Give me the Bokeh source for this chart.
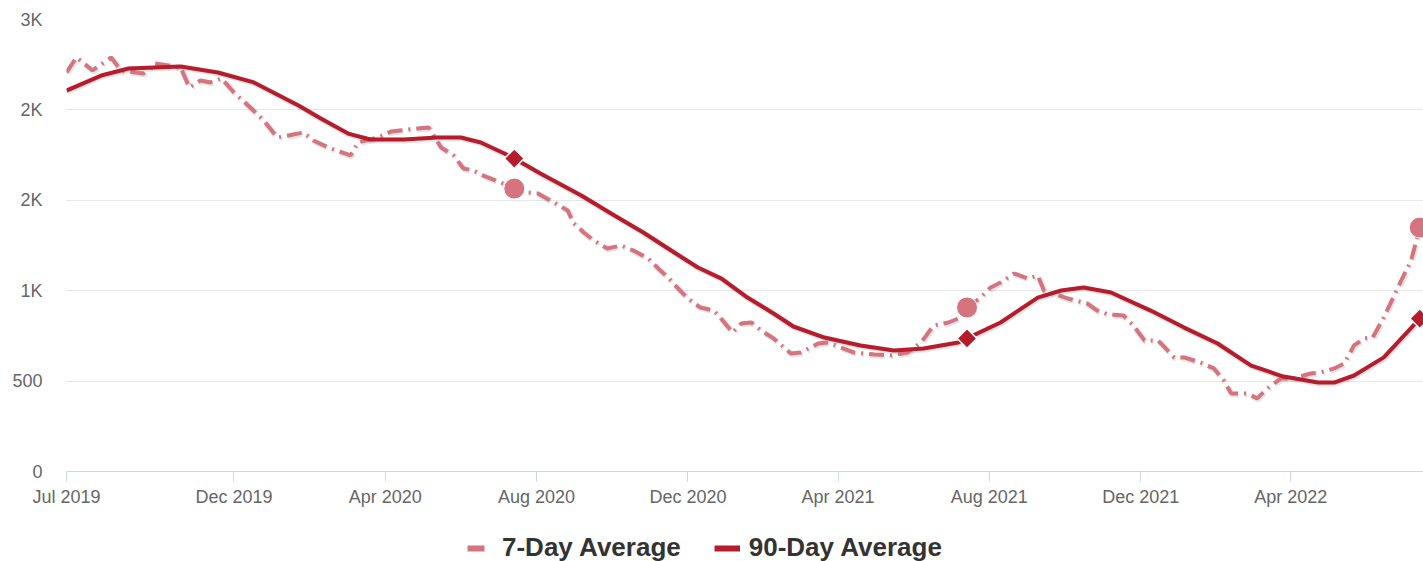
import pandas as pd
from bokeh.plotting import figure
from bokeh.layouts import column
from bokeh.models import ColumnDataSource, FixedTicker, Legend, LegendItem, Range1d
from bokeh.transform import dodge
from bokeh.embed import file_html
from bokeh.resources import INLINE

# ---------------- data ----------------
DATES_7 = [
    "2019-07-19", "2019-07-27", "2019-08-09", "2019-08-24", "2019-09-01", "2019-09-19",
    "2019-09-28", "2019-10-19", "2019-10-26", "2019-11-04", "2019-11-12", "2019-11-21",
    "2019-12-01", "2019-12-15", "2019-12-25", "2020-01-05", "2020-01-26", "2020-02-03",
    "2020-02-15", "2020-03-04", "2020-03-10", "2020-03-26", "2020-04-06", "2020-04-27",
    "2020-05-06", "2020-05-16", "2020-05-26", "2020-06-03", "2020-06-11", "2020-06-19",
    "2020-07-03", "2020-07-14", "2020-07-25", "2020-08-02", "2020-08-15", "2020-08-26",
    "2020-08-31", "2020-09-08", "2020-09-16", "2020-09-27", "2020-10-08", "2020-10-18",
    "2020-10-30", "2020-11-07", "2020-11-15", "2020-11-23", "2020-12-01", "2020-12-11",
    "2020-12-22", "2020-12-29", "2021-01-06", "2021-01-13", "2021-01-21", "2021-01-29",
    "2021-02-08", "2021-02-22", "2021-03-02", "2021-03-16", "2021-03-24", "2021-04-03",
    "2021-04-14", "2021-04-30", "2021-05-14", "2021-05-27", "2021-06-07", "2021-06-17",
    "2021-06-29", "2021-07-09", "2021-07-14", "2021-07-25", "2021-08-02", "2021-08-10",
    "2021-08-21", "2021-09-01", "2021-09-09", "2021-09-14", "2021-10-03", "2021-10-19",
    "2021-10-27", "2021-11-05", "2021-11-17", "2021-11-25", "2021-12-04", "2021-12-15",
    "2021-12-28", "2022-01-05", "2022-01-18", "2022-01-29", "2022-02-06", "2022-02-12",
    "2022-02-25", "2022-03-05", "2022-03-13", "2022-03-24", "2022-04-03", "2022-04-17",
    "2022-04-25", "2022-05-06", "2022-05-14", "2022-05-22", "2022-05-30", "2022-06-06",
    "2022-06-15", "2022-06-29", "2022-07-07", "2022-07-14",
]
VALUES_7 = [
    2207, 2290, 2218, 2290, 2218, 2201,
    2257, 2235, 2124, 2163, 2152, 2174,
    2096, 2008, 1941, 1847, 1875, 1831,
    1792, 1748, 1820, 1847, 1881, 1897,
    1903, 1792, 1748, 1676, 1665, 1637,
    1598, 1565, 1543, 1538, 1488, 1444,
    1372, 1322, 1278, 1233, 1250, 1222,
    1178, 1123, 1073, 1012, 957, 907,
    890, 835, 769, 819, 824, 780,
    736, 653, 658, 708, 714, 686,
    658, 647, 642, 658, 714, 808,
    824, 852, 907, 962, 1018, 1045,
    1095, 1067, 1084, 1001, 957, 929,
    890, 868, 863, 808, 725, 725,
    631, 631, 603, 570, 503, 431,
    431, 404, 459, 514, 514, 542,
    548, 570, 597, 697, 736, 741,
    852, 1056, 1167, 1349,
]

DATES_90 = [
    "2019-07-19", "2019-08-16", "2019-09-07", "2019-10-19", "2019-11-18", "2019-12-17",
    "2020-01-22", "2020-02-09", "2020-03-02", "2020-03-20", "2020-04-16", "2020-05-13",
    "2020-06-01", "2020-06-17", "2020-07-06", "2020-07-14", "2020-08-04", "2020-09-06",
    "2020-09-30", "2020-10-26", "2020-11-20", "2020-12-09", "2020-12-28", "2021-01-18",
    "2021-02-08", "2021-02-24", "2021-03-21", "2021-04-19", "2021-05-16", "2021-06-09",
    "2021-07-07", "2021-07-14", "2021-08-10", "2021-09-09", "2021-09-28", "2021-10-16",
    "2021-11-07", "2021-12-09", "2022-01-05", "2022-02-01", "2022-02-28", "2022-03-26",
    "2022-04-23", "2022-05-06", "2022-05-22", "2022-06-15", "2022-07-14",
]
VALUES_90 = [
    2107, 2190, 2229, 2240, 2207, 2152,
    2024, 1952, 1869, 1836, 1836, 1847,
    1847, 1820, 1759, 1731, 1648, 1527,
    1427, 1322, 1211, 1128, 1067, 962,
    874, 802, 741, 697, 669, 680,
    714, 736, 824, 962, 1001, 1018,
    990, 890, 796, 708, 586, 525,
    492, 492, 531, 631, 846,
]

MARKER_DATES = ["2020-07-14", "2021-07-14", "2022-07-14"]
MARKER_7 = [1565, 907, 1349]
MARKER_90 = [1731, 736, 846]

X_TICK_DATES = ["2019-07-19", "2019-12-01", "2020-04-01", "2020-08-01", "2020-12-01",
                "2021-04-01", "2021-08-01", "2021-12-01", "2022-04-01"]
X_TICK_LABELS = ["Jul 2019", "Dec 2019", "Apr 2020", "Aug 2020", "Dec 2020",
                 "Apr 2021", "Aug 2021", "Dec 2021", "Apr 2022"]
Y_TICKS = [0, 500, 1000, 1500, 2000, 2500]
Y_TICK_LABELS = ["0", "500", "1K", "2K", "2K", "3K"]
X_START, X_END = "2019-07-19", "2022-07-17"
SERIES_NAMES = ["7-Day Average", "90-Day Average"]

# ---------------- style ----------------
C7 = "#D5747E"
C90 = "#B71C2C"
FONT = "Liberation Sans"
NAN = float("nan")


def ms(s):
    return int(pd.Timestamp(s).value // 10**6)


src7 = ColumnDataSource(dict(x=[ms(d) for d in DATES_7], y=VALUES_7))
src90 = ColumnDataSource(dict(x=[ms(d) for d in DATES_90], y=VALUES_90))
srcm = ColumnDataSource(dict(x=[ms(d) for d in MARKER_DATES], y7=MARKER_7, y90=MARKER_90))

p = figure(width=1423, height=515, x_axis_type="datetime",
           x_range=Range1d(ms(X_START), ms(X_END)), y_range=Range1d(0, 2500),
           toolbar_location=None, output_backend="svg",
           min_border_left=66, min_border_right=0, min_border_top=19, min_border_bottom=44)
p.outline_line_color = None
p.background_fill_color = "white"
p.border_fill_color = "white"

# shadows (offset 1px right / 1px down)
SHX = 0.8 * 86400000
SHY = -5.5
p.line(x=dodge("x", SHX, range=p.x_range), y=dodge("y", SHY, range=p.y_range), source=src7,
       line_color="black", line_alpha=0.10, line_width=6, line_dash="15 6 2 6")
p.line(x=dodge("x", SHX, range=p.x_range), y=dodge("y", SHY, range=p.y_range), source=src90,
       line_color="black", line_alpha=0.10, line_width=6)

r7 = p.line("x", "y", source=src7, line_color=C7, line_width=4, line_dash="15 6 2 6")
r90 = p.line("x", "y", source=src90, line_color=C90, line_width=4)

p.scatter("x", "y7", source=srcm, marker="circle", size=21, fill_color=C7,
          line_color="white", line_width=1)
p.scatter("x", "y90", source=srcm, marker="square", angle=0.785398, size=14,
          fill_color=C90, line_color="white", line_width=1.5)

# axes
xa = p.xaxis[0]
xa.ticker = FixedTicker(ticks=[ms(d) for d in X_TICK_DATES])
xa.major_label_overrides = {ms(d): lab for d, lab in zip(X_TICK_DATES, X_TICK_LABELS)}
xa.axis_line_color = "#ccd6eb"
xa.major_tick_line_color = "#ccd6eb"
xa.major_tick_in = 0
xa.major_tick_out = 10
xa.minor_tick_line_color = None
xa.major_label_standoff = 5
xa.major_label_text_font = FONT
xa.major_label_text_font_size = "18px"
xa.major_label_text_color = "#666666"

ya = p.yaxis[0]
ya.ticker = FixedTicker(ticks=Y_TICKS)
ya.major_label_overrides = {t: lab for t, lab in zip(Y_TICKS, Y_TICK_LABELS)}
ya.axis_line_color = None
ya.major_tick_line_color = None
ya.minor_tick_line_color = None
ya.major_tick_in = 0
ya.major_tick_out = 0
ya.major_label_standoff = 24
ya.major_label_text_font = FONT
ya.major_label_text_font_size = "18px"
ya.major_label_text_color = "#666666"

p.xgrid.grid_line_color = None
p.ygrid.grid_line_color = "#e6e6e6"
p.ygrid.grid_line_width = 1

# ---------------- legend strip ----------------
pl = figure(width=1423, height=46, x_range=Range1d(0, 1), y_range=Range1d(0, 1),
            toolbar_location=None, output_backend="svg",
            x_axis_location=None, y_axis_location=None,
            min_border_left=0, min_border_right=0, min_border_top=0, min_border_bottom=0)
pl.outline_line_color = None
pl.background_fill_color = "white"
pl.border_fill_color = "white"
pl.grid.visible = False

# legend proxies (no visible data)
leg7 = pl.line(x=[NAN], y=[NAN], line_color=C7, line_width=6, line_dash="17 100")
leg90 = pl.line(x=[NAN], y=[NAN], line_color=C90, line_width=6)

legend = Legend(items=[LegendItem(label=SERIES_NAMES[0], renderers=[leg7]),
                       LegendItem(label=SERIES_NAMES[1], renderers=[leg90])],
                orientation="horizontal", location=(401, -2),
                label_text_font=FONT, label_text_font_style="bold",
                label_text_font_size="26px", label_text_color="#333333",
                glyph_width=26, glyph_height=26, label_height=26, label_standoff=9, spacing=33,
                padding=0, margin=0, border_line_color=None, background_fill_alpha=0)
pl.add_layout(legend, "center")

layout = column(p, pl, spacing=0)
open("out.html", "w").write(file_html(layout, INLINE))
